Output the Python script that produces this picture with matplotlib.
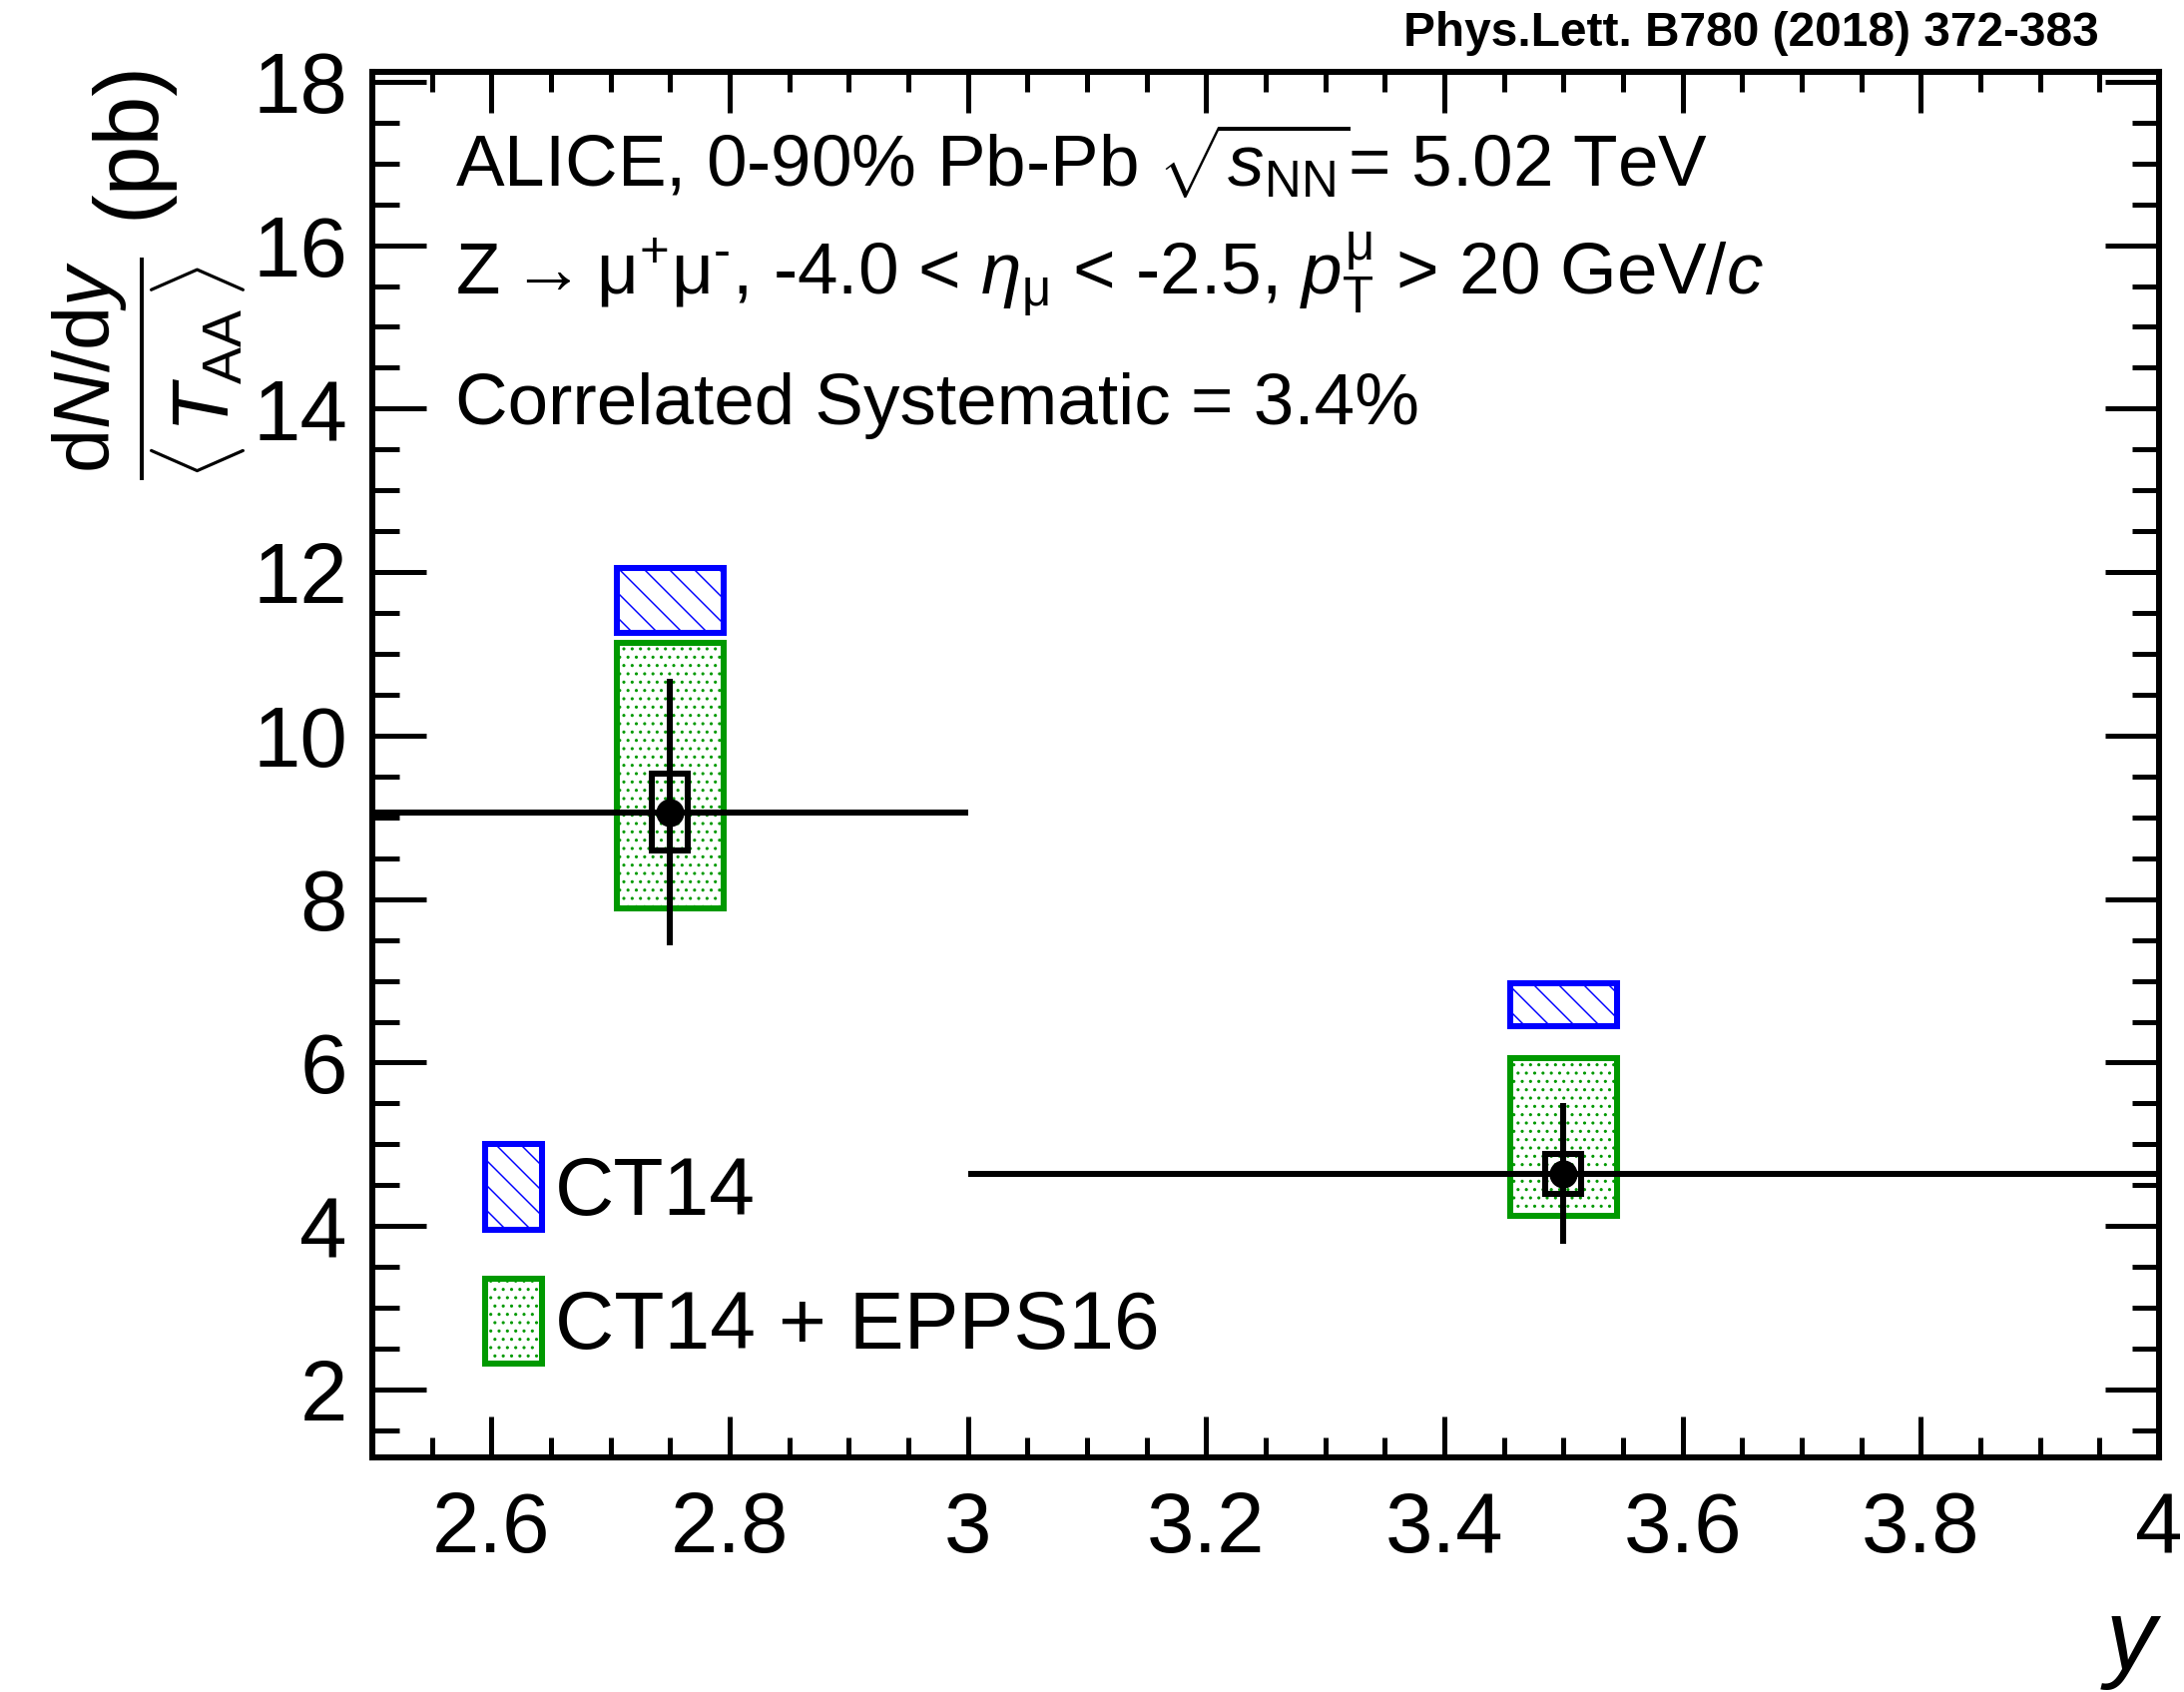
import numpy as np
import matplotlib
matplotlib.use("Agg")
import matplotlib.pyplot as plt
from matplotlib.patches import Patch
from matplotlib.ticker import MultipleLocator

# --- data ---
rapidity = np.array([2.75, 3.5])
bin_lo = np.array([2.5, 3.0])
bin_hi = np.array([3.0, 4.0])
yield_val = np.array([9.06, 4.64])
stat_err = np.array([1.63, 0.86])
syst_err = np.array([0.47, 0.245])
ct14_lo = np.array([11.26, 6.45])
ct14_hi = np.array([12.05, 6.97])
epps_lo = np.array([7.89, 4.13])
epps_hi = np.array([11.14, 6.05])
legend_labels = ["CT14", "CT14 + EPPS16"]

BLUE = "#0000ff"
GREEN = "#009900"
LW = 2.9
DPI = 150
HATCH_CT14 = "\\\\"
HATCH_EPPS = "..."

plt.rcParams["font.family"] = ["Liberation Sans", "DejaVu Sans"]
plt.rcParams["mathtext.fontset"] = "custom"
plt.rcParams["mathtext.rm"] = "Liberation Sans"
plt.rcParams["mathtext.it"] = "Liberation Sans:italic"
plt.rcParams["mathtext.bf"] = "Liberation Sans:bold"
plt.rcParams["mathtext.sf"] = "Liberation Sans"
plt.rcParams["hatch.linewidth"] = 0.7
plt.rcParams["axes.unicode_minus"] = False

fig = plt.figure(figsize=(2188 / DPI, 1695 / DPI), dpi=DPI)
ax = fig.add_axes([373 / 2188, 1 - 1460 / 1695, 1790 / 2188, 1388 / 1695])

# model bands
ax.bar(rapidity, epps_hi - epps_lo, bottom=epps_lo, width=0.09,
       facecolor="none", edgecolor=GREEN, hatch=HATCH_EPPS, linewidth=LW)
ax.bar(rapidity, ct14_hi - ct14_lo, bottom=ct14_lo, width=0.09,
       facecolor="none", edgecolor=BLUE, hatch=HATCH_CT14, linewidth=LW)

# systematic boxes
ax.bar(rapidity, 2 * syst_err, bottom=yield_val - syst_err, width=0.03,
       facecolor="none", edgecolor="black", linewidth=LW, zorder=3)

# data points with stat. errors and bin widths
ax.errorbar(rapidity, yield_val, yerr=stat_err,
            xerr=[rapidity - bin_lo, bin_hi - rapidity],
            fmt="o", color="black", ms=12.5, elinewidth=LW, capsize=0,
            zorder=4)

ax.set_xlim(2.5, 4.0)
ax.set_ylim(1.17, 18.12)
ax.xaxis.set_minor_locator(MultipleLocator(0.05))
ax.yaxis.set_minor_locator(MultipleLocator(0.5))
ax.set_xticks([2.6, 2.8, 3.0, 3.2, 3.4, 3.6, 3.8, 4.0])
ax.set_xticklabels(["2.6", "2.8", "3", "3.2", "3.4", "3.6", "3.8", "4"])
ax.set_yticks([2, 4, 6, 8, 10, 12, 14, 16, 18])

for s in ax.spines.values():
    s.set_linewidth(LW)
ax.tick_params(axis="both", which="both", direction="in", top=True,
               right=True, width=2.4, labelsize=41)
ax.tick_params(axis="y", which="major", length=26, pad=12)
ax.tick_params(axis="y", which="minor", length=13)
ax.tick_params(axis="x", which="major", length=19.7, pad=16)
ax.tick_params(axis="x", which="minor", length=9.8)

# legend
handles = [Patch(facecolor="none", edgecolor=BLUE, hatch=HATCH_CT14, linewidth=LW),
           Patch(facecolor="none", edgecolor=GREEN, hatch=HATCH_EPPS, linewidth=LW)]
ax.legend(handles, legend_labels, loc="upper left",
          bbox_to_anchor=(0.063, 0.226), frameon=False, fontsize=39.5,
          handlelength=0.7, handleheight=1.22, handletextpad=0.15,
          labelspacing=0.57, borderpad=0, borderaxespad=0)

# annotations
tx = 456 / 2188
fs_txt = 35
fig.text(tx, 1 - 188 / 1695,
         r"ALICE, 0-90% Pb-Pb $\sqrt{s_{\mathrm{NN}}}$= 5.02 TeV",
         fontsize=fs_txt, va="baseline")
fig.text(tx, 1 - 295 / 1695,
         r"$\mathrm{Z}\rightarrow\mathrm{\mu}^{+}\mathrm{\mu}^{\text{-}}$, -4.0 < "
         r"$\eta_{\mathrm{\mu}}$ < -2.5, $p_{\mathrm{T}}^{\mathrm{\mu}}$"
         r" > 20 GeV/$c$",
         fontsize=fs_txt, va="baseline")
fig.text(tx, 1 - 425 / 1695, "Correlated Systematic = 3.4%",
         fontsize=fs_txt, va="baseline")

fig.text(2103 / 2188, 1 - 46 / 1695, "Phys.Lett. B780 (2018) 372-383",
         fontsize=23, fontweight="bold", ha="right", va="baseline",
         family=["Liberation Sans Narrow", "Liberation Sans"])

# y-axis title: fraction plus unit
fig.text(130 / 2188, 1 - 60 / 1695, "(pb)", fontsize=43, rotation=90,
         ha="center", va="top")
fig.text(150 / 2188, 1 - 481 / 1695,
         r"$\dfrac{\mathrm{d}N/\mathrm{d}y}{\langle\,T_{\mathrm{AA}}\,\rangle}$",
         fontsize=38, rotation=90, ha="center", va="bottom")
fig.text(2160 / 2188, 1 - 1672 / 1695, "y", fontsize=48, style="italic",
         ha="right", va="baseline")

fig.savefig("out.png", dpi=DPI)
